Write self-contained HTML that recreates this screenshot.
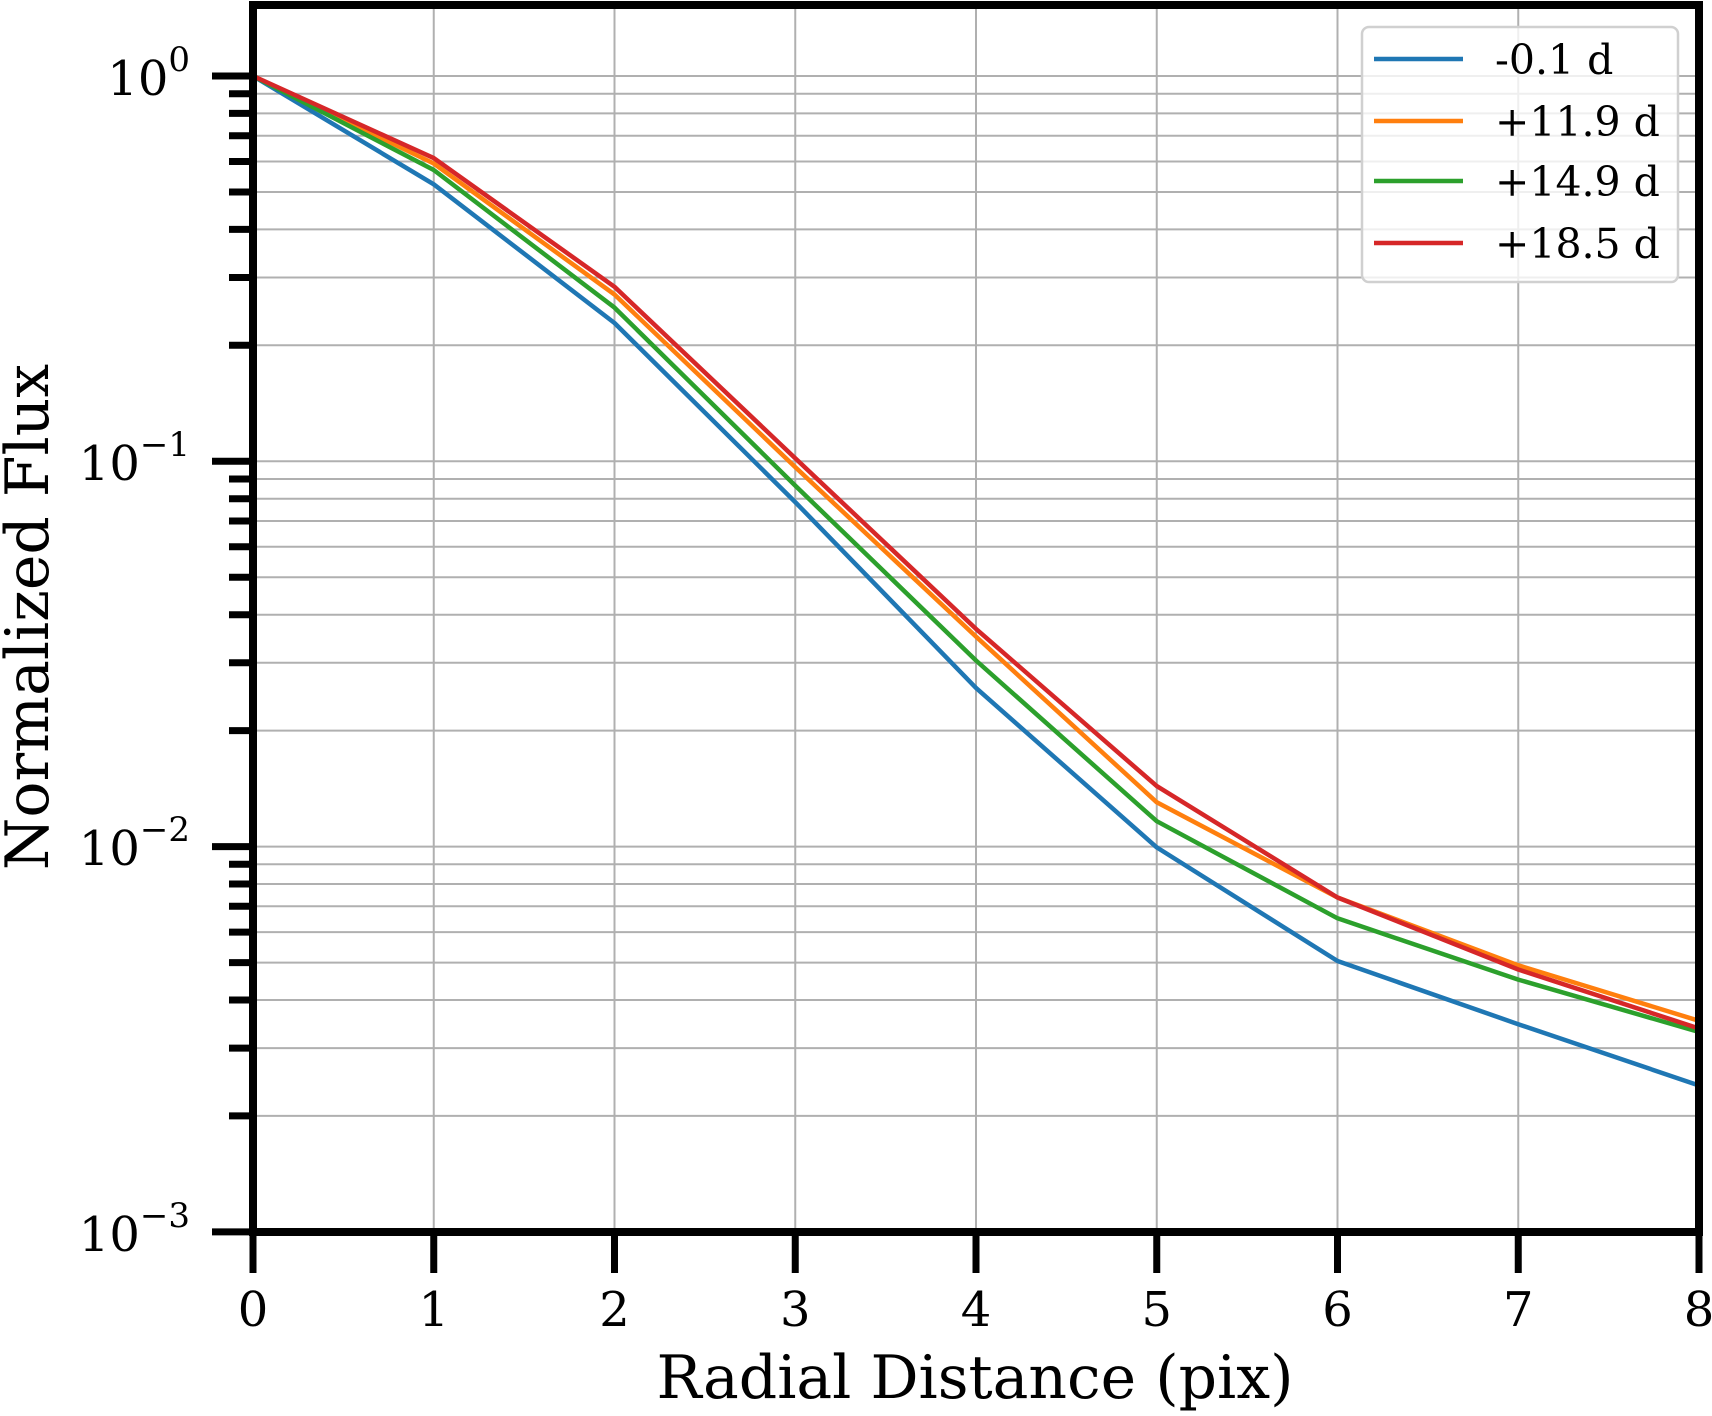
<!DOCTYPE html>
<html><head><meta charset="utf-8"><style>
html,body{margin:0;padding:0;background:#fff;}
svg{display:block;}
text{font-family:"DejaVu Serif","Liberation Serif",serif;fill:#000;}
</style></head><body>
<svg width="1712" height="1416" viewBox="0 0 1712 1416" xmlns="http://www.w3.org/2000/svg">
<g stroke="#b0b0b0" stroke-width="2" fill="none">
<path d="M253 76H1699M253 461.3H1699M253 846.6H1699
M253 345.3H1699M253 277.5H1699M253 229.4H1699M253 192H1699M253 161.5H1699M253 135.7H1699M253 113.4H1699M253 93.7H1699
M253 730.6H1699M253 662.8H1699M253 614.7H1699M253 577.3H1699M253 546.8H1699M253 521H1699M253 498.7H1699M253 479H1699
M253 1115.9H1699M253 1048.1H1699M253 1000H1699M253 962.6H1699M253 932.1H1699M253 906.3H1699M253 884H1699M253 864.3H1699
M433.75 5V1232M614.5 5V1232M795.25 5V1232M976 5V1232M1156.75 5V1232M1337.5 5V1232M1518.25 5V1232"/>
</g>
<g fill="none" stroke-width="4.5" stroke-linejoin="round">
<polyline stroke="#1f77b4" points="253,76 433.75,184.3 614.5,323 795.25,502.1 976,687.9 1156.75,847.4 1337.5,961 1518.25,1024.2 1699,1085.5"/>
<polyline stroke="#ff7f0e" points="253,76 433.75,163.5 614.5,294.5 795.25,467.1 976,636.6 1156.75,802.3 1337.5,897.5 1518.25,965.3 1699,1020.8"/>
<polyline stroke="#2ca02c" points="253,76 433.75,170 614.5,307.6 795.25,485.6 976,660.5 1156.75,821.2 1337.5,918.3 1518.25,979.6 1699,1032"/>
<polyline stroke="#d62728" points="253,76 433.75,158.1 614.5,286.8 795.25,458.2 976,628.9 1156.75,786.1 1337.5,897.5 1518.25,969.5 1699,1028.5"/>
</g>
<rect x="1362" y="27" width="316" height="255" rx="7" fill="#fff" fill-opacity="0.8" stroke="#d0d0d0" stroke-width="2.5"/>
<g stroke-width="4.5">
<line x1="1374" x2="1463" y1="59" y2="59" stroke="#1f77b4"/>
<line x1="1374" x2="1463" y1="121" y2="121" stroke="#ff7f0e"/>
<line x1="1374" x2="1463" y1="181" y2="181" stroke="#2ca02c"/>
<line x1="1374" x2="1463" y1="243" y2="243" stroke="#d62728"/>
</g>
<g font-size="41">
<text x="1495" y="74">-0.1 d</text>
<text x="1495" y="136">+11.9 d</text>
<text x="1495" y="196">+14.9 d</text>
<text x="1495" y="258">+18.5 d</text>
</g>
<rect x="253" y="5" width="1446" height="1227" fill="none" stroke="#000" stroke-width="8"/>
<g stroke="#000" stroke-width="7">
<path d="M212 76H253M212 461.3H253M212 846.6H253M212 1231.9H253"/>
<path d="M229 345.3H253M229 277.5H253M229 229.4H253M229 192H253M229 161.5H253M229 135.7H253M229 113.4H253M229 93.7H253
M229 730.6H253M229 662.8H253M229 614.7H253M229 577.3H253M229 546.8H253M229 521H253M229 498.7H253M229 479H253
M229 1115.9H253M229 1048.1H253M229 1000H253M229 962.6H253M229 932.1H253M229 906.3H253M229 884H253M229 864.3H253"/>
<path d="M253 1232V1273M433.75 1232V1273M614.5 1232V1273M795.25 1232V1273M976 1232V1273M1156.75 1232V1273M1337.5 1232V1273M1518.25 1232V1273M1699 1232V1273"/>
</g>
<g font-size="48" text-anchor="middle">
<text x="253" y="1326">0</text>
<text x="433.75" y="1326">1</text>
<text x="614.5" y="1326">2</text>
<text x="795.25" y="1326">3</text>
<text x="976" y="1326">4</text>
<text x="1156.75" y="1326">5</text>
<text x="1337.5" y="1326">6</text>
<text x="1518.25" y="1326">7</text>
<text x="1699" y="1326">8</text>
</g>
<g font-size="48" text-anchor="end">
<text x="190" y="95">10<tspan font-size="34" dy="-24">0</tspan></text>
<text x="190" y="480">10<tspan font-size="34" dy="-24">−1</tspan></text>
<text x="190" y="865">10<tspan font-size="34" dy="-24">−2</tspan></text>
<text x="190" y="1251">10<tspan font-size="34" dy="-24">−3</tspan></text>
</g>
<text x="975" y="1398" font-size="60" text-anchor="middle">Radial Distance (pix)</text>
<text transform="translate(48,617) rotate(-90)" font-size="60" text-anchor="middle">Normalized Flux</text>
</svg>
</body></html>
